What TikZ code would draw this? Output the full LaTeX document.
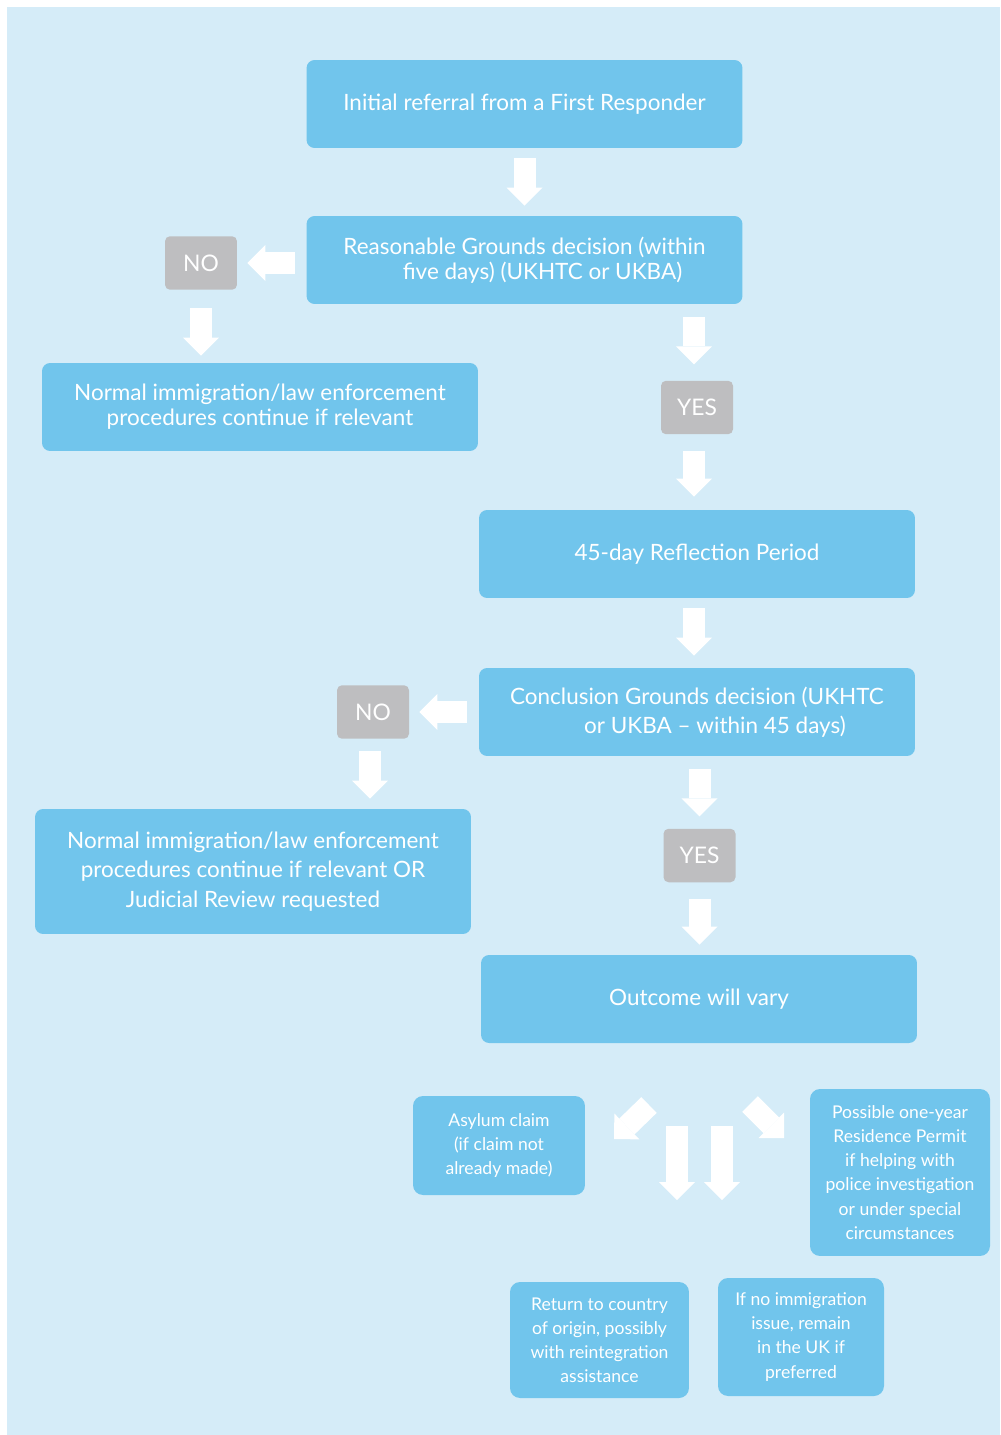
\documentclass[tikz,border=0pt]{standalone}
\usepackage{fontspec}
\setmainfont{Lato}
\usetikzlibrary{arrows.meta}
\definecolor{bgblue}{HTML}{D5ECF8}
\definecolor{boxblue}{HTML}{71C5EC}
\definecolor{nogray}{HTML}{BEBEC0}
\tikzset{
  stage/.style={fill=boxblue, rounded corners=0.16cm, text=white, align=center,
    minimum width=8.72cm, minimum height=1.76cm, inner sep=0pt,
    font=\fontsize{12.8}{14.2}\selectfont},
  verdict/.style={fill=nogray, rounded corners=0.1cm, text=white,
    minimum width=1.44cm, minimum height=1.07cm, inner sep=0pt,
    font=\fontsize{13}{14}\selectfont},
  result/.style={fill=boxblue, rounded corners=0.2cm, text=white, align=center,
    inner sep=0pt, font=\fontsize{10}{13.7}\selectfont},
  flow/.style={draw=white, line width=0.44cm,
    -{Triangle[length=0.36cm,width=0.72cm,line width=0pt]},
    shorten <=0.2cm, shorten >=0.2cm},
}

\begin{document}
\begin{tikzpicture}[x=0.02cm, y=-0.02cm]
			%%%%% START %%%%%
			\useasboundingbox (0, 0) rectangle (1000, 1435);
			\fill[bgblue] (7, 7) rectangle (1000, 1435);
			
			\node[stage] (init) at (524.5, 104) {Initial referral from a First Responder};
			\node[stage] (rg) at (524.5, 260) {Reasonable Grounds decision (within\\\hspace*{1.6em}five days) (UKHTC or UKBA)};
			\node[verdict] (no1) at (201, 263) {NO};
			\node[stage] (norm1) at (260, 407) {Normal immigration/law enforcement\\procedures continue if relevant};
			\node[verdict] (yes1) at (697, 407.5) {YES};
			
			\node[stage] (refl) at (697, 554) {45-day Reflection Period};
			\node[stage, font=\fontsize{12.8}{16.5}\selectfont] (concl) at (697, 712) {Conclusion Grounds decision (UKHTC\\\hspace*{1.6em}or UKBA -- within 45 days)};
			\node[verdict] (no2) at (373, 712) {NO};
			\node[stage, minimum height=2.5cm, font=\fontsize{12.8}{16.8}\selectfont] (norm2) at (253, 871.5) {Normal immigration/law enforcement\\procedures continue if relevant OR\\Judicial Review requested};
			\node[verdict] (yes2) at (699.5, 855.5) {YES};
			\node[stage] (outc) at (699, 999) {Outcome will vary};
			
			\node[result, minimum width=3.44cm, minimum height=1.98cm] (asyl) at (499, 1145.5) {Asylum claim\\(if claim not\\already made)};
			\node[result, minimum width=3.6cm, minimum height=3.34cm] (perm) at (900, 1172.5) {Possible one-year\\Residence Permit\\if helping with\\police investigation\\or under special\\circumstances};
			\node[result, minimum width=3.58cm, minimum height=2.32cm] (retn) at (599.5, 1340) {Return to country\\of origin, possibly\\with reintegration\\assistance};
			\node[result, minimum width=3.32cm, minimum height=2.36cm] (stay) at (801, 1337) {If no immigration\\issue, remain\\in the UK if\\preferred};
			
			\draw[flow] (init) -- (rg);
			\draw[flow, shorten <=0.22cm] (rg.west |- no1) -- (no1);
			\draw[flow, shorten <=0.36cm, shorten >=0.14cm] (no1) -- (no1 |- norm1.north);
			\draw[flow, shorten <=0.26cm, shorten >=0.32cm] ([xshift=-0.06cm]yes1 |- rg.south) -- ([xshift=-0.06cm]yes1.north);
			\draw[flow, shorten <=0.32cm, shorten >=0.26cm] ([xshift=-0.06cm]yes1.south) -- ([xshift=-0.06cm]yes1 |- refl.north);
			\draw[flow, shorten >=0.24cm] ([xshift=-0.06cm]yes1 |- refl.south) -- ([xshift=-0.06cm]yes1 |- concl.north);
			\draw[flow, shorten <=0.24cm] (concl.west |- no2) -- (no2);
			\draw[flow, shorten <=0.24cm] ([xshift=-0.06cm]no2.south) -- ([xshift=-0.06cm]no2 |- norm2.north);
			\draw[flow, shorten <=0.26cm, shorten >=0.24cm] (yes2 |- concl.south) -- (yes2);
			\draw[flow, shorten <=0.32cm] (yes2) -- (yes2 |- outc.north);
			
			\coordinate (leftA) at (649, 1105);
			\coordinate (leftB) at (614, 1139);
			\coordinate (rightA) at (750, 1104);
			\coordinate (rightB) at (784, 1138);
			\coordinate (downA) at (677, 1126);
			\coordinate (downB) at (677, 1200);
			\coordinate (downC) at (722, 1126);
			\coordinate (downD) at (722, 1200);
			\draw[flow, shorten <=0pt, shorten >=0pt] (leftA) -- (leftB);
			\draw[flow, shorten <=0pt, shorten >=0pt] (rightA) -- (rightB);
			\draw[flow, shorten <=0pt, shorten >=0pt] (downA) -- (downB);
			\draw[flow, shorten <=0pt, shorten >=0pt] (downC) -- (downD);
			
			%%%%% END %%%%%
		\end{tikzpicture}
\end{document}
